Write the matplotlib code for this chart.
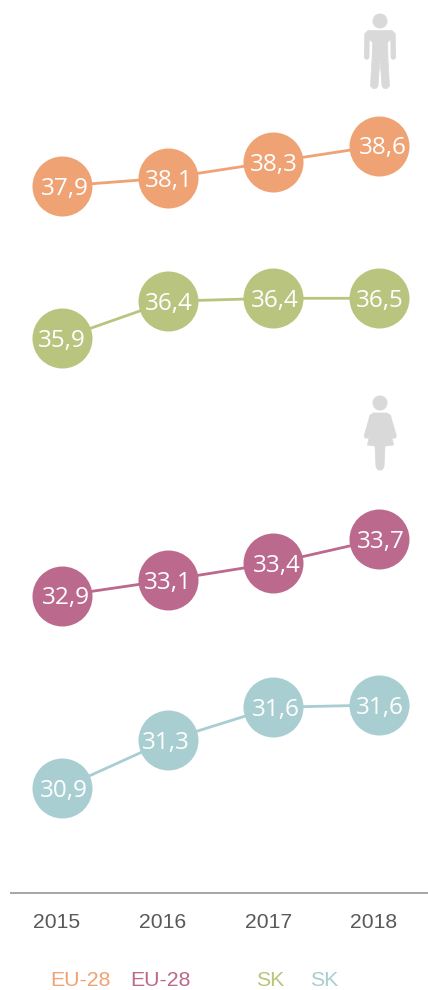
import matplotlib
matplotlib.use("Agg")
import matplotlib.pyplot as plt
from matplotlib.patches import Circle, Polygon

W, H = 428, 990

# Data
years = [2015, 2016, 2017, 2018]
eu_men = [37.90, 38.04, 38.32, 38.60]
sk_men = [35.90, 36.41, 36.45, 36.45]
eu_women = [32.90, 33.12, 33.36, 33.70]
sk_women = [30.90, 31.32, 31.61, 31.63]

eu_men_labels = ["37,9", "38,1", "38,3", "38,6"]
sk_men_labels = ["35,9", "36,4", "36,4", "36,5"]
eu_women_labels = ["32,9", "33,1", "33,4", "33,7"]
sk_women_labels = ["30,9", "31,3", "31,6", "31,6"]

legend_names = ["EU-28", "EU-28", "SK", "SK"]

ORANGE = "#EFA273"
GREEN = "#B9C47F"
MAGENTA = "#BB698D"
TEAL = "#A9CED1"
GREY = "#D9D9D9"
TEXT = "#595959"

plt.rcParams["font.family"] = ["Liberation Sans", "DejaVu Sans"]

fig = plt.figure(figsize=(W / 100, H / 100), dpi=100)

# Pixel space overlay for axis line, icons and texts
overlay = fig.add_axes([0, 0, 1, 1], zorder=5)
overlay.set_xlim(0, W)
overlay.set_ylim(H, 0)
overlay.axis("off")


# Each series sits in its own band, with its own y scale
def plot_series(values, labels, color, top_px, bottom_px, nudges):
    ax = fig.add_axes([0, 1 - bottom_px / H, 1, (bottom_px - top_px) / H])
    ax.set_xlim(2015 - 62 / 105.67, 2015 + (W - 62) / 105.67)
    ax.set_ylim(min(values), max(values))
    ax.axis("off")
    ax.plot(years, values, color=color, lw=2, zorder=1, clip_on=False)
    ax.plot(years, values, "o", color=color, ms=43.2, mew=0, zorder=2, clip_on=False)
    for x, y, label, nudge in zip(years, values, labels, nudges):
        # baseline placed so the digits, not the comma, are centred in the circle
        ax.annotate(label, (x, y), xytext=(nudge * 0.72, -6.3), textcoords="offset points",
                    color="white", fontsize=17.5, family="Open Sans",
                    ha="center", va="baseline", zorder=3)


plot_series(eu_men, eu_men_labels, ORANGE, 145.7, 186, [2.7, 1, 1, 4])
plot_series(sk_men, sk_men_labels, GREEN, 298.3, 338.3, [0, 1, 1.7, 0.7])
plot_series(eu_women, eu_women_labels, MAGENTA, 539.3, 595.7, [4.3, 0, 3.3, 2.3])
plot_series(sk_women, sk_women_labels, TEAL, 705, 788.3, [1.7, -1.7, 2.3, 1.3])

# Baseline
overlay.plot([10, 428], [893, 893], color="#A6A6A6", lw=1.4, solid_capstyle="butt")

# Year labels
for i, year in enumerate(years):
    overlay.text(57 + i * 105.67, 923, str(year), color=TEXT, fontsize=15.2,
                 ha="center", va="center")

# Legend
legend_x = [80, 160, 270, 324]
legend_colors = [ORANGE, MAGENTA, GREEN, TEAL]
for x, name, color in zip(legend_x, legend_names, legend_colors):
    overlay.text(x, 981, name, color=color, fontsize=15.3, ha="center", va="center")


def limb(x0, y0, x1, y1):
    overlay.plot([x0, x1], [y0, y1], color=GREY, lw=3.9, solid_capstyle="round")


# Man icon
overlay.add_patch(Circle((380, 21), 7.5, color=GREY, lw=0))
limb(367, 36, 366.7, 57)
limb(393, 36, 393.3, 57)
shoulders = [(368, 30.5), (392, 30.5), (395.5, 34), (388, 42), (372, 42), (364.5, 34)]
overlay.add_patch(Polygon(shoulders, closed=True, fc=GREY, ec=GREY, lw=0.5, joinstyle="round"))
man = [(373, 36), (387.5, 36), (388, 60), (389.5, 86), (387, 88.5), (384, 88.5), (382, 86),
       (380.3, 62), (379.7, 62), (378, 86), (376, 88.5), (373, 88.5), (370.5, 86), (372, 60)]
overlay.add_patch(Polygon(man, closed=True, fc=GREY, ec=GREY, lw=0.5, joinstyle="round"))

# Woman icon
overlay.add_patch(Circle((380, 403), 7.5, color=GREY, lw=0))
limb(372, 417, 366.5, 436)
limb(388.5, 417, 394, 436)
woman = [(373, 413), (387, 413), (391, 416), (389, 424), (393.5, 445), (385, 446), (384, 467),
         (382, 470), (378, 470), (376, 467), (375, 446), (367.5, 445), (371.5, 424), (369.5, 416)]
overlay.add_patch(Polygon(woman, closed=True, fc=GREY, ec=GREY, lw=0.5, joinstyle="round"))

plt.savefig("out.png", dpi=100)
plt.close()
